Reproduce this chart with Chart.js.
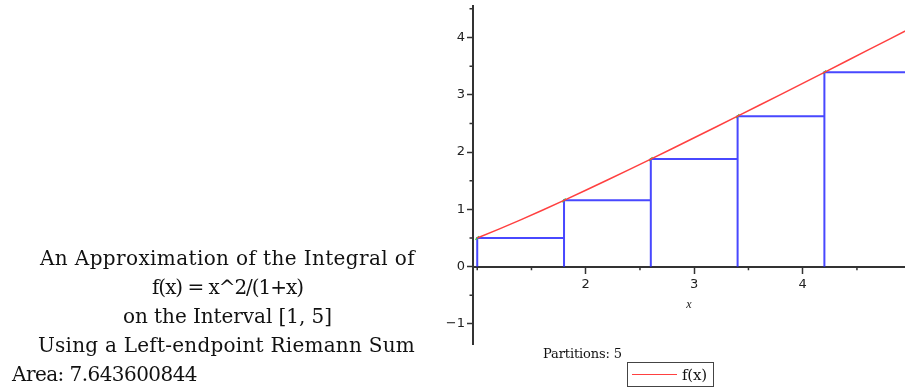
<!DOCTYPE html>
<html>
<head>
<meta charset="utf-8">
<script src="https://cdn.jsdelivr.net/npm/chart.js@4/dist/chart.umd.min.js"></script>
<style>
  html, body { margin: 0; padding: 0; background: #fff; }
  #wrap { position: relative; width: 905px; height: 390px; overflow: hidden; }
  #plot { position: absolute; left: 0; top: 0; }
  .cap { position: absolute; font-family: "DejaVu Serif", "Liberation Serif", serif; color: #111; white-space: nowrap; line-height: 1; }
  .big { font-size: 20px; }
  #parts { font-size: 13px; left: 543px; top: 347px; }
  #legend { position: absolute; left: 627px; top: 362px; width: 85px; height: 23px; border: 1.5px solid #444; box-sizing: content-box; }
  #legend .swatch { position: absolute; left: 4px; top: 11px; width: 45px; height: 0; border-top: 1.5px solid #ff4040; }
  #legend .lab { position: absolute; left: 54px; top: 5px; font-size: 15px; }
</style>
</head>
<body>
<div id="wrap">
  <canvas id="plot" width="905" height="390"></canvas>
  <div class="cap big" data-w="375" style="left:40px; top:248px;">An Approximation of the Integral of</div>
  <div class="cap big" data-w="151" style="left:152px; top:277px;">f(x) = x^2/(1+x)</div>
  <div class="cap big" data-w="209" style="left:123px; top:306px;">on the Interval [1, 5]</div>
  <div class="cap big" data-w="377" style="left:38px; top:335px;">Using a Left-endpoint Riemann Sum</div>
  <div class="cap big" data-w="185" style="left:12px; top:364px;">Area: 7.643600844</div>
  <div class="cap" id="parts" data-w="79">Partitions: 5</div>
  <div id="legend"><div class="swatch"></div><div class="cap lab" data-w="25">f(x)</div></div>
</div>
<script>
// f(x) = x^2/(1+x) sampled along [1, 5]
const curveX = [1.0, 1.2, 1.4, 1.6, 1.8, 2.0, 2.2, 2.4, 2.6, 2.8, 3.0, 3.2, 3.4, 3.6, 3.8, 4.0, 4.2, 4.4, 4.6, 4.8, 5.0];
const curveY = [0.5, 0.6545, 0.8167, 0.9846, 1.1571, 1.3333, 1.5125, 1.6941, 1.8778, 2.0632, 2.25, 2.4381, 2.6273, 2.8174, 3.0083, 3.2, 3.3923, 3.5852, 3.7786, 3.9724, 4.1667];

// left-endpoint Riemann rectangles (5 partitions)
const interval = [1, 5];
const leftX = [1.0, 1.8, 2.6, 3.4, 4.2];
const heights = [0.5, 1.1571, 1.8778, 2.6273, 3.3923];

// axis ticks
const xTickValues = [2, 3, 4];
const xMinorTicks = [1, 1.5, 2.5, 3.5, 4.5];
const yTickValues = [-1, 0, 1, 2, 3, 4];
const yMinorTicks = [-0.5, 0.5, 1.5, 2.5, 3.5, 4.5];

const rightX = leftX.slice(1).concat([interval[1]]);

// outline of each rectangle (left side, top, right side), separated by gaps
const rectOutline = [];
leftX.forEach((x0, i) => {
  const x1 = rightX[i], h = heights[i];
  rectOutline.push({x: x0, y: 0}, {x: x0, y: h}, {x: x1, y: h}, {x: x1, y: 0}, {x: x1, y: null});
});
const curvePts = curveX.map((x, i) => ({x, y: curveY[i]}));
const cornerPts = leftX.map((x, i) => ({x, y: heights[i]}));

const axisColor = '#333';
const tickFont = {family: "'DejaVu Sans', sans-serif", size: 13};

const minorTicksPlugin = {
  id: 'minorTicks',
  afterDraw(chart) {
    const {ctx, scales: {x, y}, chartArea} = chart;
    const y0 = y.getPixelForValue(0);
    ctx.save();
    ctx.strokeStyle = axisColor;
    ctx.lineWidth = 1.5;
    ctx.beginPath();
    xMinorTicks.forEach(v => {
      if (v < x.min || v > x.max) return;
      const px = x.getPixelForValue(v);
      ctx.moveTo(px, y0); ctx.lineTo(px, y0 + 3.5);
    });
    yMinorTicks.forEach(v => {
      if (v < y.min || v > y.max) return;
      const py = y.getPixelForValue(v);
      ctx.moveTo(chartArea.left, py); ctx.lineTo(chartArea.left - 3.5, py);
    });
    ctx.stroke();
    ctx.restore();
  }
};

function fitText() {
  document.querySelectorAll('[data-w]').forEach(el => {
    el.style.letterSpacing = '0px';
    const target = +el.dataset.w;
    const w = el.getBoundingClientRect().width;
    const n = el.textContent.length;
    el.style.letterSpacing = ((target - w) / n) + 'px';
  });
}
fitText();

new Chart(document.getElementById('plot'), {
  type: 'line',
  data: {
    datasets: [
      {
        label: 'rectangles',
        data: rectOutline,
        borderColor: 'rgba(40,40,255,0.85)',
        borderWidth: 2,
        pointRadius: 0,
        spanGaps: false,
        tension: 0,
        order: 2
      },
      {
        label: 'corners',
        type: 'scatter',
        data: cornerPts,
        pointStyle: 'line',
        rotation: -45,
        pointRadius: 2.5,
        borderColor: '#3ccc3c',
        borderWidth: 1.5,
        order: 1
      },
      {
        label: 'f(x)',
        data: curvePts,
        borderColor: '#ff4040',
        borderWidth: 1.5,
        pointRadius: 0,
        tension: 0,
        order: 0
      }
    ]
  },
  options: {
    responsive: false,
    animation: false,
    devicePixelRatio: 1,
    layout: {autoPadding: false, padding: {left: 443, top: 6, right: 0, bottom: 46}},
    plugins: {legend: {display: false}, tooltip: {enabled: false}},
    scales: {
      x: {
        type: 'linear',
        position: {y: 0},
        min: 0.961,
        max: 4.943,
        afterBuildTicks: s => { s.ticks = xTickValues.map(v => ({value: v})); },
        border: {display: true, color: axisColor, width: 2},
        grid: {drawOnChartArea: false, drawTicks: true, tickLength: 6, tickColor: axisColor, tickWidth: 1.5},
        ticks: {color: '#222', font: tickFont, padding: 4, maxRotation: 0, callback: v => String(v)},
        title: {display: true, text: 'x', color: '#222', font: {family: "'Liberation Serif', serif", size: 12, style: 'italic'}, padding: {top: 1, bottom: 0}}
      },
      y: {
        type: 'linear',
        position: 'left',
        min: -1.35,
        max: 4.55,
        afterBuildTicks: s => { s.ticks = yTickValues.map(v => ({value: v})); },
        afterFit: s => { s.width = 30; s.paddingTop = 0; s.paddingBottom = 0; },
        border: {display: true, color: axisColor, width: 2},
        grid: {drawOnChartArea: false, drawTicks: true, tickLength: 6, tickColor: axisColor, tickWidth: 1.5},
        ticks: {color: '#222', font: tickFont, padding: 2, callback: v => v < 0 ? '\u2212' + Math.abs(v) : String(v)}
      }
    }
  },
  plugins: [minorTicksPlugin]
});
</script>
</body>
</html>
